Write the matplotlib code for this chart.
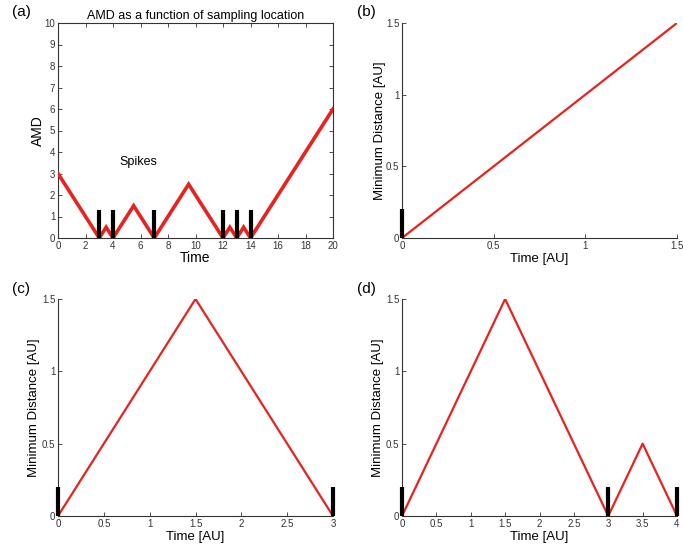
import matplotlib.pyplot as plt
import numpy as np

# panel (a): AMD vs time
a_t = [0, 3, 3.5, 4, 5.5, 7, 9.5, 12, 12.5, 13, 13.5, 14, 20]
a_amd = [3, 0, 0.5, 0, 1.5, 0, 2.5, 0, 0.5, 0, 0.5, 0, 6]
a_spikes = [3, 4, 7, 12, 13, 14]
a_spike_h = 1.3

# panel (b)
b_t = [0, 1.5]
b_d = [0, 1.5]
b_spikes = [0]

# panel (c)
c_t = [0, 1.5, 3]
c_d = [0, 1.5, 0]
c_spikes = [0, 3]

# panel (d)
d_t = [0, 1.5, 3, 3.5, 4]
d_d = [0, 1.5, 0, 0.5, 0]
d_spikes = [0, 3, 4]
spike_h = 0.2

red = '#e8221f'
plt.rcParams['font.family'] = ['Liberation Sans', 'DejaVu Sans']

fig = plt.figure(figsize=(6.83, 5.48), dpi=100)
W, H = 683, 548

def make_ax(l, t, r, b):
    return fig.add_axes([l / W, 1 - b / H, (r - l) / W, (b - t) / H])

ax_a = make_ax(58, 23, 333, 238)
ax_b = make_ax(402, 23, 677, 238)
ax_c = make_ax(58, 299, 333, 516)
ax_d = make_ax(402, 299, 677, 516)

def style(ax, box):
    ax.tick_params(direction='in', labelsize=7, length=3, width=0.6,
                   colors='#333333', pad=2)
    for s in ax.spines.values():
        s.set_linewidth(0.8)
        s.set_color('#333333')
    if box:
        ax.tick_params(top=True, right=True)
    else:
        ax.spines['top'].set_visible(False)
        ax.spines['right'].set_visible(False)

# (a)
ax_a.plot(a_t, a_amd, color=red, lw=2.6, solid_joinstyle='miter', zorder=3)
ax_a.vlines(a_spikes, 0, a_spike_h, color='black', lw=3, zorder=4)
ax_a.set_xlim(0, 20)
ax_a.set_ylim(0, 10)
ax_a.set_xticks(np.arange(0, 21, 2))
ax_a.set_yticks(np.arange(0, 11, 1))
ax_a.set_xlabel('Time', fontsize=10, labelpad=0)
ax_a.set_ylabel('AMD', fontsize=10, labelpad=0)
ax_a.set_title('AMD as a function of sampling location', fontsize=9, pad=3)
ax_a.text(4.5, 3.55, 'Spikes', fontsize=9, va='center')
style(ax_a, True)

# (b), (c), (d)
for ax, t, d, sp, xmax, pad in [(ax_b, b_t, b_d, b_spikes, 1.5, 0),
                                 (ax_c, c_t, c_d, c_spikes, 3, 1),
                                 (ax_d, d_t, d_d, d_spikes, 4, 1)]:
    ax.plot(t, d, color=red, lw=1.6, zorder=3)
    ax.vlines(sp, 0, spike_h, color='black', lw=3, zorder=4, clip_on=False)
    ax.set_xlim(0, xmax)
    ax.set_ylim(0, 1.5)
    ticks = np.arange(0, xmax + 0.01, 0.5)
    ax.set_xticks(ticks)
    ax.set_xticklabels(['%g' % v for v in ticks])
    ax.set_yticks([0, 0.5, 1, 1.5])
    ax.set_yticklabels(['0', '0.5', '1', '1.5'])
    ax.set_xlabel('Time [AU]', fontsize=9.5, labelpad=1.5)
    ax.set_ylabel('Minimum Distance [AU]', fontsize=9.5, labelpad=pad)
    style(ax, False)

for lab, x, y in [('(a)', 12, 12), ('(b)', 357, 12), ('(c)', 12, 289), ('(d)', 357, 289)]:
    fig.text(x / W, 1 - y / H, lab, fontsize=11, va='center', ha='left')

fig.savefig('out.png', dpi=100)
